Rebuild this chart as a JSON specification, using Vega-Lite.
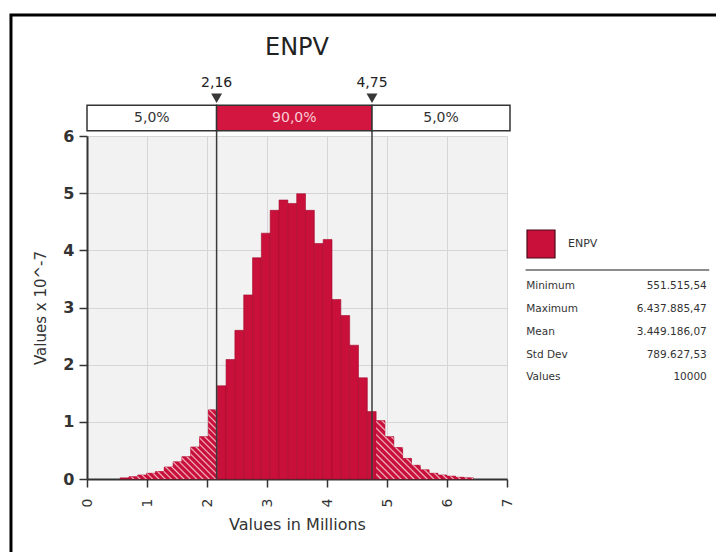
{
  "$schema": "https://vega.github.io/schema/vega-lite/v6.json",
  "width": 420,
  "height": 343,
  "autosize": {"type": "none"},
  "padding": {"left": 87, "top": 136, "right": 209, "bottom": 73},
  "background": "#ffffff",
  "config": {"view": {"stroke": null, "fill": "#f2f2f2"}, "font": "DejaVu Sans"},
  "datasets": {
    "bins": [
      {"b0": 0.5515, "b1": 0.6987, "h": 0.02},
      {"b0": 0.6987, "b1": 0.8458, "h": 0.04},
      {"b0": 0.8458, "b1": 0.9930, "h": 0.07},
      {"b0": 0.9930, "b1": 1.1402, "h": 0.10},
      {"b0": 1.1402, "b1": 1.2873, "h": 0.13},
      {"b0": 1.2873, "b1": 1.4345, "h": 0.21},
      {"b0": 1.4345, "b1": 1.5817, "h": 0.30},
      {"b0": 1.5817, "b1": 1.7288, "h": 0.39},
      {"b0": 1.7288, "b1": 1.8760, "h": 0.56},
      {"b0": 1.8760, "b1": 2.0231, "h": 0.74},
      {"b0": 2.0231, "b1": 2.1703, "h": 1.21},
      {"b0": 2.1703, "b1": 2.3175, "h": 1.63},
      {"b0": 2.3175, "b1": 2.4646, "h": 2.09},
      {"b0": 2.4646, "b1": 2.6118, "h": 2.60},
      {"b0": 2.6118, "b1": 2.7590, "h": 3.22},
      {"b0": 2.7590, "b1": 2.9061, "h": 3.87},
      {"b0": 2.9061, "b1": 3.0533, "h": 4.30},
      {"b0": 3.0533, "b1": 3.2004, "h": 4.70},
      {"b0": 3.2004, "b1": 3.3476, "h": 4.88},
      {"b0": 3.3476, "b1": 3.4948, "h": 4.82},
      {"b0": 3.4948, "b1": 3.6419, "h": 4.99},
      {"b0": 3.6419, "b1": 3.7891, "h": 4.70},
      {"b0": 3.7891, "b1": 3.9363, "h": 4.12},
      {"b0": 3.9363, "b1": 4.0834, "h": 4.19},
      {"b0": 4.0834, "b1": 4.2306, "h": 3.14},
      {"b0": 4.2306, "b1": 4.3777, "h": 2.86},
      {"b0": 4.3777, "b1": 4.5249, "h": 2.34},
      {"b0": 4.5249, "b1": 4.6721, "h": 1.77},
      {"b0": 4.6721, "b1": 4.8192, "h": 1.18},
      {"b0": 4.8192, "b1": 4.9664, "h": 1.02},
      {"b0": 4.9664, "b1": 5.1135, "h": 0.74},
      {"b0": 5.1135, "b1": 5.2607, "h": 0.55},
      {"b0": 5.2607, "b1": 5.4079, "h": 0.36},
      {"b0": 5.4079, "b1": 5.5550, "h": 0.24},
      {"b0": 5.5550, "b1": 5.7022, "h": 0.16},
      {"b0": 5.7022, "b1": 5.8494, "h": 0.10},
      {"b0": 5.8494, "b1": 5.9965, "h": 0.07},
      {"b0": 5.9965, "b1": 6.1437, "h": 0.05},
      {"b0": 6.1437, "b1": 6.2908, "h": 0.03},
      {"b0": 6.2908, "b1": 6.4379, "h": 0.02}
    ],
    "pct": [{"p": 2.16, "label": "2,16"}, {"p": 4.75, "label": "4,75"}],
    "band": [
      {"seg": "lo", "a": 0, "b": 2.16, "txt": "5,0%"},
      {"seg": "mid", "a": 2.16, "b": 4.75, "txt": "90,0%"},
      {"seg": "hi", "a": 4.75, "b": 7.05, "txt": "5,0%"}
    ],
    "stats": [
      {"stat": "Minimum", "val": "551.515,54"},
      {"stat": "Maximum", "val": "6.437.885,47"},
      {"stat": "Mean", "val": "3.449.186,07"},
      {"stat": "Std Dev", "val": "789.627,53"},
      {"stat": "Values", "val": "10000"}
    ],
    "one": [{}]
  },
  "resolve": {"scale": {"y": "independent"}},
  "layer": [
    {
      "layer": [
        {
          "data": {"name": "one"},
          "mark": {"type": "rect", "fill": "#ffffff", "fillOpacity": 0, "stroke": "#000000", "strokeWidth": 3},
          "encoding": {
            "x": {"datum": -1.267, "type": "quantitative", "scale": {"domain": [0, 7], "nice": false, "zero": false}},
            "x2": {"datum": 13},
            "y": {"datum": 8.116, "type": "quantitative", "scale": {"domain": [0, 6], "nice": false, "zero": false}},
            "y2": {"datum": -3}
          }
        },
        {
          "data": {"name": "bins"},
          "mark": {"type": "rect", "stroke": "#a50c2d", "strokeWidth": 0.6},
          "encoding": {
            "x": {"field": "b0", "type": "quantitative", "title": "Values in Millions",
              "scale": {"domain": [0, 7], "nice": false, "zero": false},
              "axis": {"values": [0, 1, 2, 3, 4, 5, 6, 7], "format": "d", "grid": true, "gridColor": "#d6d6d6", "gridWidth": 1,
                "domainColor": "#333333", "domainWidth": 2, "tickColor": "#333333", "tickWidth": 1.5, "tickSize": 8,
                "labelAngle": -90, "labelFontSize": 14, "labelColor": "#333333", "labelPadding": 11,
                "labelFlush": false, "labelOverlap": false,
                "titleFontSize": 16, "titleFontWeight": "normal", "titleColor": "#333333", "titlePadding": 10}},
            "x2": {"field": "b1"},
            "y": {"field": "h", "type": "quantitative", "title": "Values x 10^-7",
              "scale": {"domain": [0, 6], "nice": false, "zero": false},
              "axis": {"values": [0, 1, 2, 3, 4, 5, 6], "format": "d", "grid": true, "gridColor": "#d6d6d6", "gridWidth": 1,
                "domainColor": "#333333", "domainWidth": 2, "tickColor": "#333333", "tickWidth": 1.5, "tickSize": 8,
                "labelFontSize": 16, "labelFontWeight": "bold", "labelColor": "#333333", "labelPadding": 5,
                "labelFlush": false, "labelOverlap": false,
                "titleFontSize": 15, "titleFontWeight": "normal", "titleColor": "#333333", "titlePadding": 14}},
            "y2": {"datum": 0},
            "fill": {"datum": "ENPV", "type": "nominal", "scale": {"range": ["#c8103a"]},
              "legend": {"orient": "none", "legendX": 439, "legendY": 93, "title": null, "symbolType": "square",
                "symbolSize": 784, "symbolStrokeColor": "#4a0a18", "symbolStrokeWidth": 1.2, "symbolOpacity": 1,
                "labelFontSize": 11, "labelColor": "#333333", "labelOffset": 12, "padding": 0}}
          }
        },
        {
          "data": {"name": "bins"},
          "transform": [{"filter": "datum.b1 < 2.2"}],
          "mark": {"type": "area", "orient": "vertical", "interpolate": "step-before",
            "fill": {"gradient": "linear", "x1": 0, "y1": 1, "x2": 1.105, "y2": 0.135, "stops": [
              {"offset": 0, "color": "#c8103a"}, {"offset": 0.02, "color": "#c8103a"}, {"offset": 0.03, "color": "#f3bcc7"},
              {"offset": 0.04, "color": "#c8103a"}, {"offset": 0.06, "color": "#c8103a"}, {"offset": 0.07, "color": "#f3bcc7"},
              {"offset": 0.08, "color": "#c8103a"}, {"offset": 0.10, "color": "#c8103a"}, {"offset": 0.11, "color": "#f3bcc7"},
              {"offset": 0.12, "color": "#c8103a"}, {"offset": 0.14, "color": "#c8103a"}, {"offset": 0.15, "color": "#f3bcc7"},
              {"offset": 0.16, "color": "#c8103a"}, {"offset": 0.18, "color": "#c8103a"}, {"offset": 0.19, "color": "#f3bcc7"},
              {"offset": 0.20, "color": "#c8103a"}, {"offset": 0.22, "color": "#c8103a"}, {"offset": 0.23, "color": "#f3bcc7"},
              {"offset": 0.24, "color": "#c8103a"}, {"offset": 0.26, "color": "#c8103a"}, {"offset": 0.27, "color": "#f3bcc7"},
              {"offset": 0.28, "color": "#c8103a"}, {"offset": 0.30, "color": "#c8103a"}, {"offset": 0.31, "color": "#f3bcc7"},
              {"offset": 0.32, "color": "#c8103a"}, {"offset": 0.34, "color": "#c8103a"}, {"offset": 0.35, "color": "#f3bcc7"},
              {"offset": 0.36, "color": "#c8103a"}, {"offset": 0.38, "color": "#c8103a"}, {"offset": 0.39, "color": "#f3bcc7"},
              {"offset": 0.40, "color": "#c8103a"}, {"offset": 0.42, "color": "#c8103a"}, {"offset": 0.43, "color": "#f3bcc7"},
              {"offset": 0.44, "color": "#c8103a"}, {"offset": 0.46, "color": "#c8103a"}, {"offset": 0.47, "color": "#f3bcc7"},
              {"offset": 0.48, "color": "#c8103a"}, {"offset": 0.50, "color": "#c8103a"}, {"offset": 0.51, "color": "#f3bcc7"},
              {"offset": 0.52, "color": "#c8103a"}, {"offset": 0.54, "color": "#c8103a"}, {"offset": 0.55, "color": "#f3bcc7"},
              {"offset": 0.56, "color": "#c8103a"}, {"offset": 0.58, "color": "#c8103a"}, {"offset": 0.59, "color": "#f3bcc7"},
              {"offset": 0.60, "color": "#c8103a"}, {"offset": 0.62, "color": "#c8103a"}, {"offset": 0.63, "color": "#f3bcc7"},
              {"offset": 0.64, "color": "#c8103a"}, {"offset": 0.66, "color": "#c8103a"}, {"offset": 0.67, "color": "#f3bcc7"},
              {"offset": 0.68, "color": "#c8103a"}, {"offset": 0.70, "color": "#c8103a"}, {"offset": 0.71, "color": "#f3bcc7"},
              {"offset": 0.72, "color": "#c8103a"}, {"offset": 0.74, "color": "#c8103a"}, {"offset": 0.75, "color": "#f3bcc7"},
              {"offset": 0.76, "color": "#c8103a"}, {"offset": 0.78, "color": "#c8103a"}, {"offset": 0.79, "color": "#f3bcc7"},
              {"offset": 0.80, "color": "#c8103a"}, {"offset": 0.82, "color": "#c8103a"}, {"offset": 0.83, "color": "#f3bcc7"},
              {"offset": 0.84, "color": "#c8103a"}, {"offset": 0.86, "color": "#c8103a"}, {"offset": 0.87, "color": "#f3bcc7"},
              {"offset": 0.88, "color": "#c8103a"}, {"offset": 0.90, "color": "#c8103a"}, {"offset": 0.91, "color": "#f3bcc7"},
              {"offset": 0.92, "color": "#c8103a"}, {"offset": 0.94, "color": "#c8103a"}, {"offset": 0.95, "color": "#f3bcc7"},
              {"offset": 0.96, "color": "#c8103a"}, {"offset": 0.98, "color": "#c8103a"}, {"offset": 0.99, "color": "#f3bcc7"},
              {"offset": 1, "color": "#c8103a"}
            ]}},
          "encoding": {
            "x": {"field": "b1", "type": "quantitative", "title": "Values in Millions", "scale": {"domain": [0, 7], "nice": false, "zero": false}},
            "y": {"field": "h", "type": "quantitative", "title": "Values x 10^-7", "scale": {"domain": [0, 6], "nice": false, "zero": false}},
            "y2": {"datum": 0}
          }
        },
        {
          "data": {"name": "bins"},
          "transform": [{"filter": "datum.b0 > 4.6"}],
          "mark": {"type": "area", "orient": "vertical", "interpolate": "step-before",
            "fill": {"gradient": "linear", "x1": 0, "y1": 1, "x2": 1.143, "y2": 0.206, "stops": [
              {"offset": 0, "color": "#c8103a"}, {"offset": 0.02, "color": "#c8103a"}, {"offset": 0.03, "color": "#f3bcc7"},
              {"offset": 0.04, "color": "#c8103a"}, {"offset": 0.06, "color": "#c8103a"}, {"offset": 0.07, "color": "#f3bcc7"},
              {"offset": 0.08, "color": "#c8103a"}, {"offset": 0.10, "color": "#c8103a"}, {"offset": 0.11, "color": "#f3bcc7"},
              {"offset": 0.12, "color": "#c8103a"}, {"offset": 0.14, "color": "#c8103a"}, {"offset": 0.15, "color": "#f3bcc7"},
              {"offset": 0.16, "color": "#c8103a"}, {"offset": 0.18, "color": "#c8103a"}, {"offset": 0.19, "color": "#f3bcc7"},
              {"offset": 0.20, "color": "#c8103a"}, {"offset": 0.22, "color": "#c8103a"}, {"offset": 0.23, "color": "#f3bcc7"},
              {"offset": 0.24, "color": "#c8103a"}, {"offset": 0.26, "color": "#c8103a"}, {"offset": 0.27, "color": "#f3bcc7"},
              {"offset": 0.28, "color": "#c8103a"}, {"offset": 0.30, "color": "#c8103a"}, {"offset": 0.31, "color": "#f3bcc7"},
              {"offset": 0.32, "color": "#c8103a"}, {"offset": 0.34, "color": "#c8103a"}, {"offset": 0.35, "color": "#f3bcc7"},
              {"offset": 0.36, "color": "#c8103a"}, {"offset": 0.38, "color": "#c8103a"}, {"offset": 0.39, "color": "#f3bcc7"},
              {"offset": 0.40, "color": "#c8103a"}, {"offset": 0.42, "color": "#c8103a"}, {"offset": 0.43, "color": "#f3bcc7"},
              {"offset": 0.44, "color": "#c8103a"}, {"offset": 0.46, "color": "#c8103a"}, {"offset": 0.47, "color": "#f3bcc7"},
              {"offset": 0.48, "color": "#c8103a"}, {"offset": 0.50, "color": "#c8103a"}, {"offset": 0.51, "color": "#f3bcc7"},
              {"offset": 0.52, "color": "#c8103a"}, {"offset": 0.54, "color": "#c8103a"}, {"offset": 0.55, "color": "#f3bcc7"},
              {"offset": 0.56, "color": "#c8103a"}, {"offset": 0.58, "color": "#c8103a"}, {"offset": 0.59, "color": "#f3bcc7"},
              {"offset": 0.60, "color": "#c8103a"}, {"offset": 0.62, "color": "#c8103a"}, {"offset": 0.63, "color": "#f3bcc7"},
              {"offset": 0.64, "color": "#c8103a"}, {"offset": 0.66, "color": "#c8103a"}, {"offset": 0.67, "color": "#f3bcc7"},
              {"offset": 0.68, "color": "#c8103a"}, {"offset": 0.70, "color": "#c8103a"}, {"offset": 0.71, "color": "#f3bcc7"},
              {"offset": 0.72, "color": "#c8103a"}, {"offset": 0.74, "color": "#c8103a"}, {"offset": 0.75, "color": "#f3bcc7"},
              {"offset": 0.76, "color": "#c8103a"}, {"offset": 0.78, "color": "#c8103a"}, {"offset": 0.79, "color": "#f3bcc7"},
              {"offset": 0.80, "color": "#c8103a"}, {"offset": 0.82, "color": "#c8103a"}, {"offset": 0.83, "color": "#f3bcc7"},
              {"offset": 0.84, "color": "#c8103a"}, {"offset": 0.86, "color": "#c8103a"}, {"offset": 0.87, "color": "#f3bcc7"},
              {"offset": 0.88, "color": "#c8103a"}, {"offset": 0.90, "color": "#c8103a"}, {"offset": 0.91, "color": "#f3bcc7"},
              {"offset": 0.92, "color": "#c8103a"}, {"offset": 0.94, "color": "#c8103a"}, {"offset": 0.95, "color": "#f3bcc7"},
              {"offset": 0.96, "color": "#c8103a"}, {"offset": 0.98, "color": "#c8103a"}, {"offset": 0.99, "color": "#f3bcc7"},
              {"offset": 1, "color": "#c8103a"}
            ]}},
          "encoding": {
            "x": {"field": "b1", "type": "quantitative", "title": "Values in Millions", "scale": {"domain": [0, 7], "nice": false, "zero": false}},
            "y": {"field": "h", "type": "quantitative", "title": "Values x 10^-7", "scale": {"domain": [0, 6], "nice": false, "zero": false}},
            "y2": {"datum": 0}
          }
        },
        {
          "data": {"name": "pct"},
          "mark": {"type": "rule", "color": "#3a3a3a", "strokeWidth": 1.5},
          "encoding": {
            "x": {"field": "p", "type": "quantitative", "title": "Values in Millions", "scale": {"domain": [0, 7], "nice": false, "zero": false}},
            "y": {"datum": 0, "type": "quantitative", "scale": {"domain": [0, 6], "nice": false, "zero": false}},
            "y2": {"datum": 6.54}
          }
        },
        {
          "data": {"name": "band"},
          "mark": {"type": "rect", "stroke": "#333333", "strokeWidth": 1.5},
          "encoding": {
            "x": {"field": "a", "type": "quantitative", "title": "Values in Millions", "scale": {"domain": [0, 7], "nice": false, "zero": false}},
            "x2": {"field": "b"},
            "y": {"datum": 6.09, "type": "quantitative", "scale": {"domain": [0, 6], "nice": false, "zero": false}},
            "y2": {"datum": 6.54},
            "fill": {"condition": {"test": "datum.seg === 'mid'", "value": "#d3163f"}, "value": "#ffffff"}
          }
        },
        {
          "data": {"name": "band"},
          "transform": [{"fold": ["a", "b"], "as": ["edge", "v"]}],
          "mark": {"type": "text", "fontSize": 14, "baseline": "middle", "align": "center"},
          "encoding": {
            "x": {"aggregate": "mean", "field": "v", "type": "quantitative", "title": "Values in Millions", "scale": {"domain": [0, 7], "nice": false, "zero": false}},
            "y": {"datum": 6.315, "type": "quantitative", "scale": {"domain": [0, 6], "nice": false, "zero": false}},
            "detail": {"field": "seg"},
            "text": {"field": "txt"},
            "color": {"condition": {"test": "datum.seg === 'mid'", "value": "#f7cdd6"}, "value": "#333333"}
          }
        },
        {
          "data": {"name": "pct"},
          "mark": {"type": "point", "shape": "triangle-down", "filled": true, "size": 120, "color": "#383838", "opacity": 1},
          "encoding": {
            "x": {"field": "p", "type": "quantitative", "title": "Values in Millions", "scale": {"domain": [0, 7], "nice": false, "zero": false}},
            "y": {"datum": 6.66, "type": "quantitative", "scale": {"domain": [0, 6], "nice": false, "zero": false}}
          }
        },
        {
          "data": {"name": "pct"},
          "mark": {"type": "text", "fontSize": 14, "color": "#222222", "baseline": "middle", "align": "center"},
          "encoding": {
            "x": {"field": "p", "type": "quantitative", "title": "Values in Millions", "scale": {"domain": [0, 7], "nice": false, "zero": false}},
            "y": {"datum": 6.92, "type": "quantitative", "scale": {"domain": [0, 6], "nice": false, "zero": false}},
            "text": {"field": "label"}
          }
        },
        {
          "data": {"name": "one"},
          "mark": {"type": "text", "text": "ENPV", "fontSize": 24, "color": "#222222", "baseline": "middle", "align": "center"},
          "encoding": {
            "x": {"datum": 3.5, "type": "quantitative", "scale": {"domain": [0, 7], "nice": false, "zero": false}},
            "y": {"datum": 7.54, "type": "quantitative", "scale": {"domain": [0, 6], "nice": false, "zero": false}}
          }
        },
        {
          "data": {"name": "one"},
          "mark": {"type": "rule", "color": "#8c8c8c", "strokeWidth": 2},
          "encoding": {
            "x": {"datum": 7.31, "type": "quantitative", "scale": {"domain": [0, 7], "nice": false, "zero": false}},
            "x2": {"datum": 10.37},
            "y": {"datum": 3.656, "type": "quantitative", "scale": {"domain": [0, 6], "nice": false, "zero": false}}
          }
        }
      ]
    },
    {
      "data": {"name": "stats"},
      "encoding": {
        "y": {"field": "stat", "type": "nominal", "sort": null, "axis": null,
          "scale": {"type": "point", "padding": 0.5, "align": 0.56,
            "domain": ["_a", "_b", "_c", "_d", "_e", "_f", "Minimum", "Maximum", "Mean", "Std Dev", "Values", "_g", "_h", "_i", "_j"]}}
      },
      "layer": [
        {
          "mark": {"type": "text", "align": "left", "baseline": "middle", "fontSize": 10.5, "color": "#333333"},
          "encoding": {
            "x": {"datum": 7.32, "type": "quantitative", "scale": {"domain": [0, 7], "nice": false, "zero": false}},
            "text": {"field": "stat"}
          }
        },
        {
          "mark": {"type": "text", "align": "right", "baseline": "middle", "fontSize": 10.5, "color": "#333333"},
          "encoding": {
            "x": {"datum": 10.33, "type": "quantitative", "scale": {"domain": [0, 7], "nice": false, "zero": false}},
            "text": {"field": "val"}
          }
        }
      ]
    }
  ]
}
